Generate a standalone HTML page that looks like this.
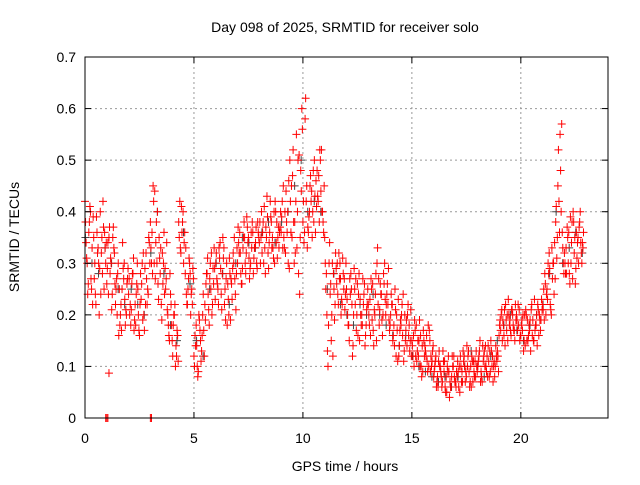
<!DOCTYPE html>
<html><head><meta charset="utf-8"><style>
body{margin:0;background:#fff}
svg text{font-family:"Liberation Sans",sans-serif;font-size:14px;fill:#000}
</style></head><body>
<svg id="chart" width="640" height="480" viewBox="0 0 640 480">
<rect x="0" y="0" width="640" height="480" fill="#fff"/>
<text x="345" y="32" text-anchor="middle">Day 098 of 2025, SRMTID for receiver solo</text>
<text transform="translate(19,237) rotate(-90)" text-anchor="middle">SRMTID / TECUs</text>
<text x="345" y="471" text-anchor="middle">GPS time / hours</text>
<g id="grid"></g>
<g id="gray"></g>
<g id="red"></g>
<rect x="85" y="57" width="523" height="361" fill="none" stroke="#000" stroke-width="1"/>
<g id="ticks"></g>
</svg>
<script>
const xTicks=[0,5,10,15,20];
const yTicks=[0,0.1,0.2,0.3,0.4,0.5,0.6,0.7];
const yTickLabels=["0","0.1","0.2","0.3","0.4","0.5","0.6","0.7"];
const redA=[.42,.30,.38,.25,.35,.22,.33,.40,.28,.36,.26,.35,.30,.37,.22,.28,.18,.25,.30,.20,.24,.18,.28,.22,.30,.16,.26,.20,.32,.24,.38,.28,.44,.30,.35,.22,.30,.25,.20,.28,.15,.20,.12,.38,.32,.40,.28,.22,.30,.25,.12,.18,.09,.15,.20,.22,.28,.18,.32,.26,.30,.25,.34,.28,.22,.30,.20,.27,.32,.24,.30,.36,.26,.38,.32,.35,.30,.36,.33,.29,.34,.40,.30,.37,.32,.42,.35,.30,.38,.33,.36,.45,.32,.40,.50,.35,.30,.55,.28,.48,.38,.58,.33,.40,.44,.38,.46,.42,.50,.40,.35,.20,.30,.15,.28,.32,.24,.30,.22,.27,.25,.18,.28,.14,.22,.26,.15,.20,.24,.18,.22,.16,.26,.20,.30,.18,.24,.28,.20,.22,.18,.22,.14,.20,.12,.18,.24,.15,.20,.13,.15,.10,.18,.12,.16,.09,.14,.11,.17,.10,.08,.12,.06,.10,.07,.11,.05,.09,.06,.10,.07,.11,.05,.09,.12,.08,.13,.10,.07,.11,.09,.13,.08,.12,.10,.14,.09,.12,.08,.11,.16,.20,.18,.22,.15,.19,.21,.17,.20,.18,.16,.20,.14,.19,.17,.22,.15,.18,.21,.17,.22,.28,.25,.32,.20,.30,.38,.45,.55,.36,.32,.28,.36,.30,.40,.26,.34,.38,.30];
const redB=[.34,.26,.40,.22,.30,.36,.20,.32,.37,.30,.34,.28,.24,.32,.27,.16,.22,.29,.18,.27,.20,.26,.17,.24,.20,.28,.19,.29,.22,.34,.30,.42,.34,.26,.28,.32,.24,.34,.16,.22,.18,.10,.16,.42,.36,.34,.24,.27,.20,.29,.16,.10,.19,.13,.17,.26,.24,.30,.22,.29,.27,.33,.24,.31,.19,.26,.28,.23,.35,.28,.34,.28,.33,.30,.37,.27,.33,.31,.37,.36,.30,.36,.33,.43,.34,.38,.31,.40,.35,.37,.42,.33,.38,.46,.36,.52,.32,.40,.24,.60,.34,.42,.36,.47,.40,.43,.48,.38,.52,.36,.25,.10,.24,.30,.19,.26,.32,.20,.28,.24,.20,.27,.22,.29,.17,.24,.20,.27,.14,.22,.18,.25,.14,.28,.22,.26,.16,.30,.24,.19,.24,.16,.21,.11,.17,.22,.13,.19,.16,.21,.12,.17,.13,.19,.08,.15,.12,.18,.09,.13,.10,.07,.13,.08,.11,.05,.09,.07,.12,.08,.09,.06,.10,.13,.07,.10,.06,.12,.09,.13,.11,.07,.14,.10,.12,.08,.13,.10,.14,.12,.19,.15,.21,.17,.20,.16,.18,.22,.17,.15,.19,.15,.20,.16,.13,.19,.17,.14,.20,.23,.25,.20,.30,.22,.27,.34,.31,.42,.40,.30,.28,.35,.26,.38,.32,.36,.30,.34,.33];
const redC=[.38,.24,.41,.33,.27,.39,.30,.24,.42,.33,.29,.37,.21,.33,.25,.30,.20,.34,.23,.26,.27,.21,.31,.18,.25,.22,.30,.17,.27,.35,.33,.45,.27,.40,.31,.19,.36,.27,.18,.24,.12,.22,.17,.35,.41,.30,.33,.25,.28,.22,.10,.14,.20,.11,.24,.19,.31,.27,.20,.33,.32,.22,.29,.35,.25,.18,.31,.26,.30,.21,.37,.32,.29,.35,.39,.31,.36,.28,.34,.38,.38,.32,.41,.35,.29,.39,.33,.42,.31,.36,.39,.35,.44,.30,.42,.47,.38,.33,.51,.44,.42,.62,.37,.45,.35,.50,.41,.47,.44,.38,.30,.13,.34,.20,.25,.29,.22,.27,.31,.21,.23,.15,.25,.20,.27,.16,.23,.18,.26,.21,.20,.27,.17,.24,.33,.21,.19,.26,.22,.29,.20,.15,.25,.17,.14,.20,.11,.17,.22,.15,.14,.19,.11,.15,.10,.17,.13,.09,.15,.11,.09,.06,.11,.09,.13,.06,.10,.04,.08,.12,.06,.09,.12,.07,.10,.14,.09,.06,.11,.08,.10,.15,.07,.13,.09,.11,.15,.07,.10,.13,.18,.21,.16,.19,.23,.17,.20,.15,.19,.21,.18,.13,.21,.15,.19,.16,.23,.20,.16,.19,.21,.26,.23,.29,.33,.24,.41,.52,.48,.33,.30,.37,.28,.34,.38,.29,.35,.40,.34];
const redD=[.31,.36,.27,.39,.24,.32,.29,.35,.25,.34,.24,.31,.35,.26,.20,.25,.17,.27,.21,.29,.22,.28,.19,.26,.17,.23,.32,.22,.25,.30,.36,.30,.38,.23,.33,.26,.29,.21,.15,.18,.20,.14,.11,.33,.38,.36,.22,.31,.24,.27,.14,.08,.17,.16,.12,.28,.21,.25,.29,.23,.26,.31,.21,.33,.27,.23,.19,.29,.27,.33,.32,.26,.35,.28,.34,.29,.38,.33,.30,.35,.35,.38,.28,.39,.36,.33,.40,.34,.37,.40,.33,.40,.36,.29,.45,.38,.42,.50,.35,.56,.36,.45,.39,.42,.48,.36,.43,.52,.40,.45,.28,.18,.26,.12,.22,.30,.27,.23,.25,.30,.18,.24,.12,.25,.20,.28,.18,.22,.16,.25,.23,.19,.21,.15,.27,.24,.20,.23,.26,.17,.22,.18,.12,.23,.19,.16,.20,.14,.18,.12,.16,.12,.15,.10,.14,.12,.16,.10,.12,.14,.11,.08,.10,.06,.09,.08,.12,.06,.10,.07,.08,.10,.07,.11,.09,.12,.07,.11,.08,.10,.12,.09,.11,.14,.08,.13,.10,.11,.12,.09,.17,.19,.14,.20,.18,.21,.17,.19,.22,.16,.17,.20,.15,.18,.21,.15,.18,.22,.19,.21,.19,.24,.28,.21,.30,.27,.35,.36,.57,.28,.33,.30,.39,.27,.35,.31,.37,.32,.36];
const grayVals=[.35,.30,.28,.33,.30,.25,.22,.25,.22,.20,.32,.40,.28,.18,.15,.36,.26,.15,.12,.25,.30,.28,.22,.30,.35,.34,.33,.36,.38,.34,.38,.40,.45,.50,.40,.42,.40,.25,.28,.22,.20,.18,.22,.20,.24,.20,.18,.16,.14,.16,.12,.10,.09,.08,.07,.08,.06,.08,.10,.13,.10,.08,.12,.15,.18,.20,.17,.15,.18,.20,.22,.28,.40,.30,.33,.36,.32];
const zeroTimes=[0.95,1.0,1.05,3.0,3.05];
const isoTimes=[1.1];
const isoVals=[0.087];
const X=t=>85+t*(523/24);
const Y=v=>418-v*(361/0.7);
const NS="http://www.w3.org/2000/svg";
function plus(g,t,v,color){
  const p=document.createElementNS(NS,'path');
  const x=X(t),y=Y(v);
  p.setAttribute('d',`M${x-4} ${y}h8M${x} ${y-4}v8`);
  p.setAttribute('stroke',color);p.setAttribute('stroke-width','1');p.setAttribute('fill','none');
  
  
  g.appendChild(p);
}
const grid=document.getElementById('grid'),ticks=document.getElementById('ticks');
function line(g,x1,y1,x2,y2,st,dash,name){
  const l=document.createElementNS(NS,'line');
  l.setAttribute('x1',x1);l.setAttribute('y1',y1);l.setAttribute('x2',x2);l.setAttribute('y2',y2);
  l.setAttribute('stroke',st);if(dash)l.setAttribute('stroke-dasharray',dash);
  
  
  g.appendChild(l);
}
function txt(g,x,y,s,anchor,name){
  const t=document.createElementNS(NS,'text');
  t.setAttribute('x',x);t.setAttribute('y',y);t.setAttribute('text-anchor',anchor);t.textContent=s;
  
  
  g.appendChild(t);
}
xTicks.forEach(t=>{const x=X(t);
  if(t>0)line(grid,x,57,x,418,'#999','2,3','x-grid-line');
  line(ticks,x,418,x,412,'#000',null,'x-tick');line(ticks,x,57,x,63,'#000',null,'x-tick');
  txt(ticks,x,443,String(t),'middle','x-tick-label');});
yTicks.forEach((v,i)=>{const y=Y(v);
  if(v>0&&v<0.7)line(grid,85,y,608,y,'#999','2,3','y-grid-line');
  line(ticks,85,y,91,y,'#000',null,'y-tick');line(ticks,608,y,602,y,'#000',null,'y-tick');
  txt(ticks,76,y+5,yTickLabels[i],'end','y-tick-label');});
const gg=document.getElementById('gray'),rg=document.getElementById('red');
grayVals.forEach((v,i)=>plus(gg,i*0.3+0.02,v,'#444'));
redA.forEach((v,i)=>plus(rg,i*0.1,v,'#f00'));
redB.forEach((v,i)=>plus(rg,i*0.1+0.05,v,'#f00'));
redC.forEach((v,i)=>plus(rg,i*0.1+0.025,v,'#f00'));
redD.forEach((v,i)=>plus(rg,i*0.1+0.075,v,'#f00'));
zeroTimes.forEach(t=>plus(rg,t,0,'#f00'));
isoTimes.forEach((t,i)=>plus(rg,t,isoVals[i],'#f00'));
</script>
</body></html>
